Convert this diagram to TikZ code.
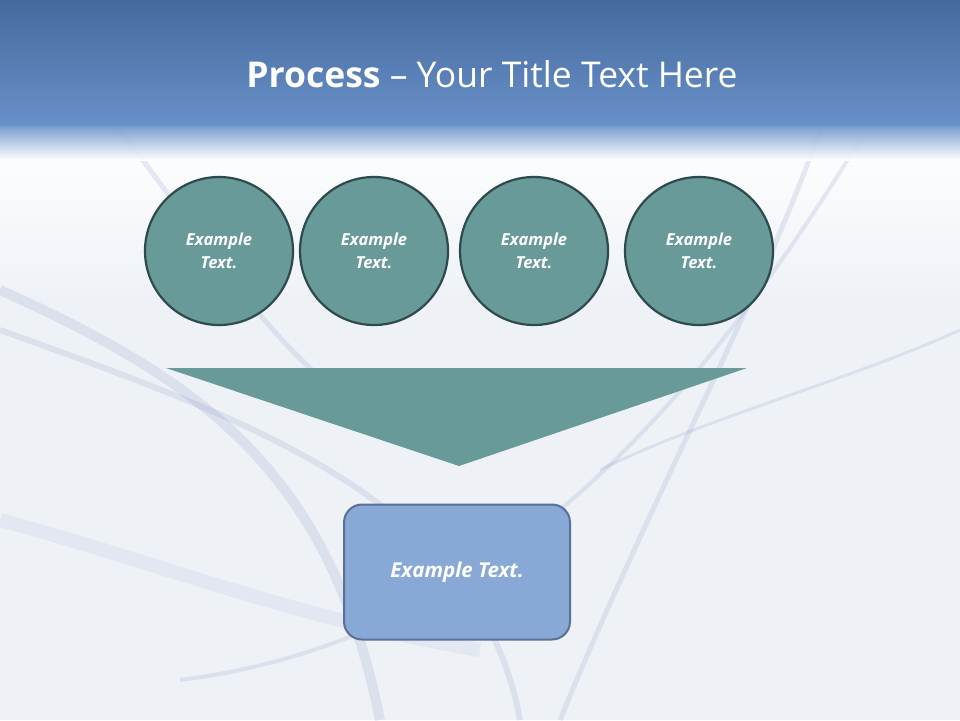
\documentclass[tikz,border=0pt]{standalone}
\usepackage{fontspec}
\setmainfont{Open Sans}
\begin{document}
\begin{tikzpicture}[x=1pt,y=-1pt,
  circ/.style={circle,minimum size=148pt,fill=teal1,draw=dark1,line width=2.2pt,text=white,font=\bfseries\itshape\fontsize{16.5}{23}\selectfont,align=center},
  swirl/.style={draw=lav,line width=#1,opacity=0.2}]
\definecolor{teal1}{HTML}{679A98}
\definecolor{dark1}{HTML}{2E4A4C}
\definecolor{lav}{HTML}{9098C8}
\definecolor{topb}{HTML}{456A9E}
\definecolor{midb}{HTML}{6890C8}
\definecolor{bg}{HTML}{EEF2F7}
\useasboundingbox (0,0) rectangle (960,720);
\fill[bg] (0,0) rectangle (960,720);
\shade[top color=white,bottom color=bg] (0,125) rectangle (960,300);
% swirls
\draw[swirl=10pt] (0,290) .. controls (200,380) and (330,470) .. (380,720);
\draw[swirl=6pt] (0,330) .. controls (250,420) and (480,500) .. (520,720);
\draw[swirl=14pt,opacity=0.12] (0,520) .. controls (150,560) and (300,620) .. (480,650);
\draw[swirl=5pt] (120,130) .. controls (250,300) and (300,400) .. (460,460);
\draw[swirl=5pt] (820,130) .. controls (760,300) and (650,500) .. (560,720);
\draw[swirl=4pt] (860,140) .. controls (700,400) and (500,640) .. (180,680);
\draw[swirl=3pt] (960,330) .. controls (850,380) and (700,420) .. (600,470);
% title bar
\shade[top color=topb,bottom color=midb] (0,0) rectangle (960,125);
\shade[top color=midb,bottom color=white,opacity=0.9] (0,125) rectangle (960,160);
\node (title) at (492,74) {\color{white}\fontsize{35.5}{40}\selectfont\textbf{Process} – Your Title Text Here};
% circles
\node[circ] (c1) at (219,251) {Example\\Text.};
\node[circ] (c2) at (374,251) {Example\\Text.};
\node[circ] (c3) at (534,251) {Example\\Text.};
\node[circ] (c4) at (699,251) {Example\\Text.};
% triangle
\fill[teal1] (166,368) coordinate (t1) -- (747,368) coordinate (t2) -- (459,466) coordinate (t3) -- cycle;
% box
\node[draw={rgb,255:red,90;green,112;blue,150},line width=2pt,fill={rgb,255:red,136;green,168;blue,214},rounded corners=18pt,minimum width=226pt,minimum height=135pt,text=white,font=\bfseries\itshape\fontsize{20.5}{24}\selectfont] (box) at (457,572) {Example Text.};
\end{tikzpicture}
\end{document}
